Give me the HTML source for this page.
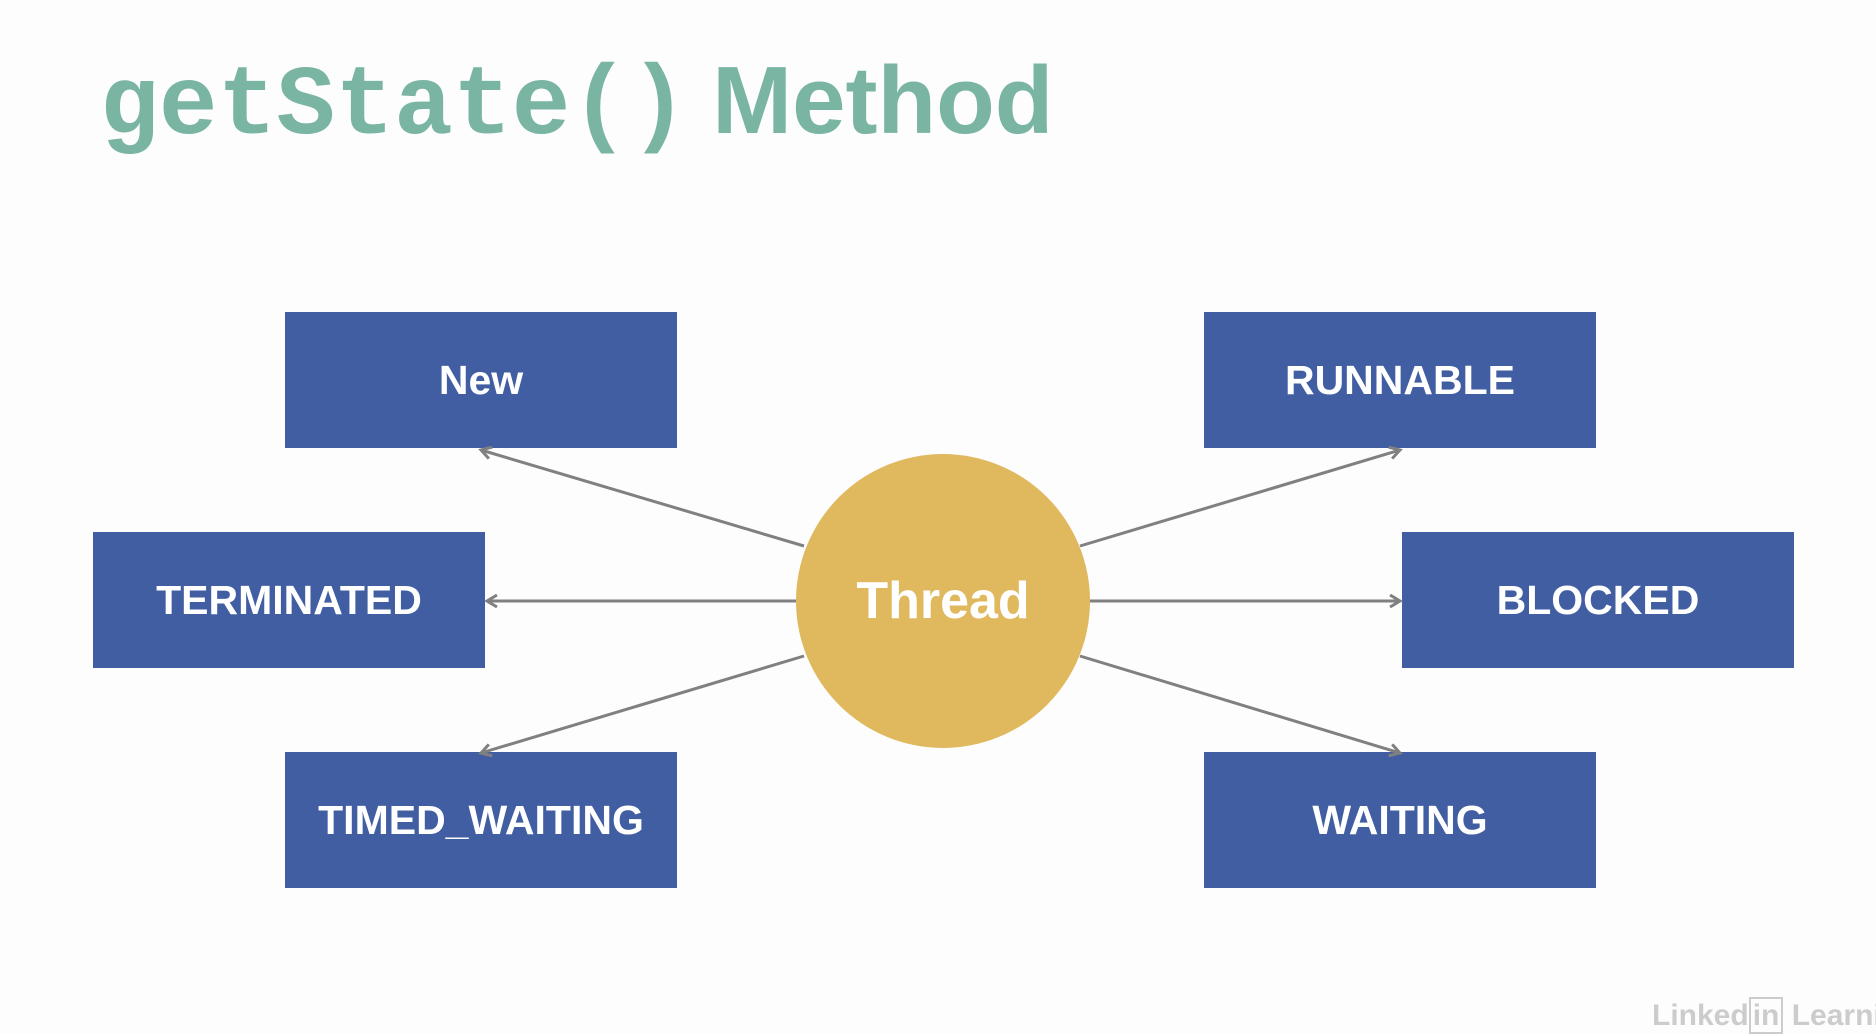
<!DOCTYPE html>
<html><head><style>
html,body{margin:0;padding:0;background:#fdfdfd;}
body{width:1876px;height:1020px;position:relative;overflow:hidden;font-family:"Liberation Sans",sans-serif;}
.t{position:absolute;left:100px;top:50px;color:#7ab5a3;font-weight:bold;font-size:98px;white-space:nowrap;line-height:1;}
.m{font-family:"Liberation Mono",monospace;}
.s{font-family:"Liberation Sans",sans-serif;font-size:96px;margin-left:24px;}
.b{position:absolute;width:392px;height:136px;background:#415ea2;color:#fff;font-weight:bold;font-size:41px;display:flex;align-items:center;justify-content:center;}
.c{position:absolute;left:796px;top:454px;width:294px;height:294px;border-radius:50%;background:#e0b85e;color:#fff;font-weight:bold;font-size:52px;display:flex;align-items:center;justify-content:center;}
.ll{position:absolute;left:1652px;top:1001px;color:#ccc;font-size:30px;font-weight:bold;white-space:nowrap;line-height:1;}
</style></head><body>
<div class="t"><span class="m">getState()</span><span class="s">Method</span></div>
<div class="b" style="left:285px;top:312px">New</div>
<div class="b" style="left:1204px;top:312px">RUNNABLE</div>
<div class="b" style="left:93px;top:532px">TERMINATED</div>
<div class="b" style="left:1402px;top:532px">BLOCKED</div>
<div class="b" style="left:285px;top:752px">TIMED_WAITING</div>
<div class="b" style="left:1204px;top:752px">WAITING</div>
<svg width="1876" height="1020" style="position:absolute;left:0;top:0">
<defs><marker id="a" markerWidth="14" markerHeight="14" refX="11" refY="7" orient="auto" markerUnits="userSpaceOnUse"><path d="M1,1 L11,7 L1,13" fill="none" stroke="#808080" stroke-width="3"/></marker></defs>
<g stroke="#808080" stroke-width="3" fill="none" marker-end="url(#a)">
<line x1="804" y1="546" x2="481" y2="450"/>
<line x1="1080" y1="546" x2="1400" y2="450"/>
<line x1="796" y1="601" x2="487" y2="601"/>
<line x1="1090" y1="601" x2="1400" y2="601"/>
<line x1="804" y1="656" x2="481" y2="753"/>
<line x1="1080" y1="656" x2="1400" y2="753"/>
</g></svg>
<div class="c">Thread</div>
<div class="ll">Linked<span style="border:2px solid #ccc;padding:0 2px">in</span> Learning</div>
</body></html>
